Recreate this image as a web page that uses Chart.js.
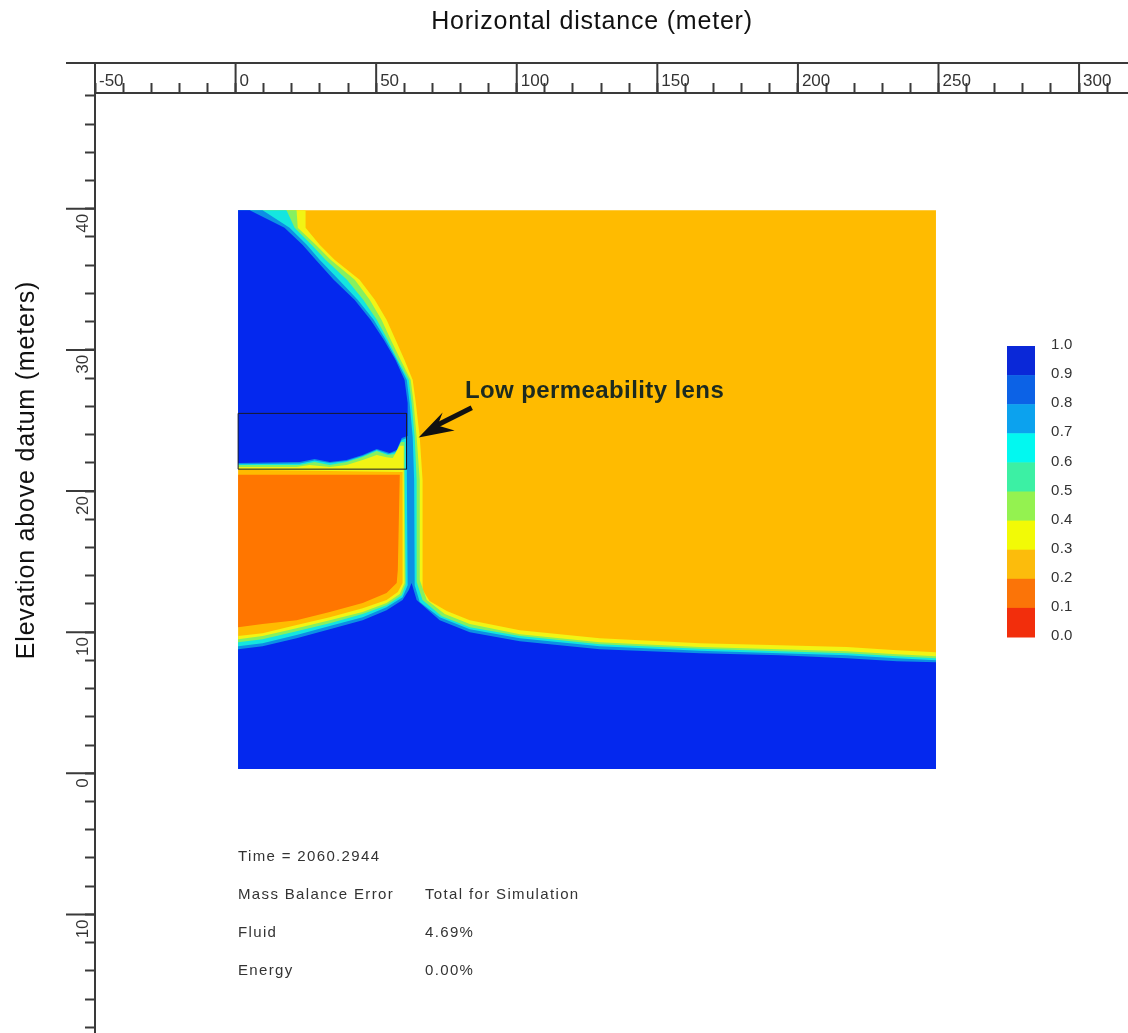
<!DOCTYPE html>
<html lang="en">

<head>
    <meta charset="UTF-8">
    <title>Saturation contours</title>
    <script src="https://cdn.jsdelivr.net/npm/chart.js"></script>
    <style>
        body {
            margin: 0;
            background-color: #fff;
        }

        canvas {
            display: block;
            filter: blur(0.5px);
        }
    </style>
</head>

<body>
    <canvas id="chart" width="1128" height="1033"></canvas>

    <script>
        // axis labels
        const xTickValues = [-50, 0, 50, 100, 150, 200, 250, 300];
        const xTickLabels = ["-50", "0", "50", "100", "150", "200", "250", "300"];
        const yTickValues = [40, 30, 20, 10, 0, -10];
        const yTickLabels = ["40", "30", "20", "10", "0", "10"];

        // legend
        const legendLabels = ["1.0", "0.9", "0.8", "0.7", "0.6", "0.5", "0.4", "0.3", "0.2", "0.1", "0.0"];
        const legendColors = ["#0a28d8", "#0c62e6", "#0ca2ee", "#02f8f0", "#3cf0a4", "#94f250", "#f2fa06", "#fcbc0c", "#fb7408", "#f22e0c"];

        // contour outlines, as [horizontal distance, elevation]
        const domainOutline = [[0.9, 39.9], [249.1, 39.9], [249.1, 0.3], [0.9, 0.3]];
        const orangeOutline = [[0.9, 21.15], [58.4, 21.15], [57.7, 14.4], [57.3, 13.48], [53.7, 12.77], [45.2, 12.06], [33.5, 11.42], [21.7, 10.85], [9.6, 10.57], [0.9, 10.35]];
        const yellowOutline = [[0.9, 39.9], [24.9, 39.9], [24.9, 38.65], [29.9, 37.45], [35.2, 36.38], [44.1, 34.96], [49.5, 33.55], [53.7, 32.13], [56.9, 30.71], [60.1, 29.29], [63.0, 27.87], [64.1, 26.24], [65.5, 23.83], [66.5, 20.78], [66.5, 13.0], [69.0, 12.2], [75.1, 11.5], [83.3, 10.85], [101.1, 10.14], [129.5, 9.57], [165.1, 9.22], [193.6, 9.08], [217.4, 8.94], [235.2, 8.72], [249.1, 8.58], [249.1, 0.3], [0.9, 0.3], [0.9, 9.72], [9.6, 9.93], [21.7, 10.5], [33.5, 11.06], [45.2, 11.7], [53.7, 12.27], [57.7, 12.84], [59.4, 13.48], [59.4, 21.35], [0.9, 21.5]];
        const greenOutline = [[0.9, 39.9], [21.7, 39.9], [22.1, 38.65], [28.5, 37.45], [33.8, 36.38], [42.4, 34.96], [47.7, 33.55], [51.9, 32.13], [55.2, 30.71], [58.7, 29.29], [62.3, 27.87], [63.3, 26.24], [64.4, 23.83], [65.5, 20.78], [65.5, 13.7], [68.0, 12.27], [74.4, 11.28], [83.3, 10.57], [101.1, 9.86], [129.5, 9.29], [165.1, 8.94], [193.6, 8.79], [217.4, 8.65], [235.2, 8.44], [249.1, 8.3], [249.1, 0.3], [0.9, 0.3], [0.9, 9.5], [9.6, 9.72], [21.7, 10.28], [33.5, 10.85], [45.2, 11.42], [53.7, 12.06], [58.4, 12.7], [60.1, 13.48], [59.8, 21.5], [59.8, 23.2], [58.4, 23.2], [55.9, 22.34], [53.7, 22.4], [50.2, 22.55], [45.2, 22.2], [39.5, 21.84], [33.5, 21.7], [26.3, 21.84], [21.7, 21.7], [0.9, 21.7]];
        const cyanOutline = [[0.9, 39.9], [18.1, 39.9], [21.0, 38.65], [27.0, 37.45], [32.0, 36.38], [39.6, 34.96], [45.4, 33.55], [50.2, 32.13], [54.1, 30.71], [57.7, 29.29], [61.6, 27.87], [62.6, 26.24], [63.7, 23.83], [64.4, 20.78], [64.4, 13.55], [66.5, 12.27], [73.3, 11.13], [83.3, 10.35], [101.1, 9.72], [129.5, 9.15], [165.1, 8.83], [193.6, 8.65], [217.4, 8.51], [235.2, 8.3], [249.1, 8.16], [249.1, 0.3], [0.9, 0.3], [0.9, 9.29], [9.6, 9.5], [21.7, 10.07], [33.5, 10.64], [45.2, 11.28], [53.7, 11.91], [59.1, 12.62], [60.5, 13.4], [60.1, 21.5], [60.1, 23.47], [58.7, 23.47], [56.6, 22.62], [54.1, 22.55], [50.2, 22.84], [45.2, 22.41], [39.5, 22.06], [33.5, 21.84], [28.1, 22.06], [22.8, 21.84], [0.9, 21.84]];
        const azureOutline = [[0.9, 39.9], [9.6, 39.9], [19.2, 38.65], [25.3, 37.45], [29.9, 36.38], [36.7, 34.96], [43.4, 33.55], [49.1, 32.13], [53.4, 30.71], [57.3, 29.29], [60.9, 27.87], [61.9, 26.24], [63.0, 23.83], [63.5, 20.78], [63.7, 13.33], [65.5, 12.13], [72.6, 11.06], [83.3, 10.21], [101.1, 9.57], [129.5, 9.0], [165.1, 8.69], [193.6, 8.51], [217.4, 8.37], [235.2, 8.16], [249.1, 8.01], [249.1, 0.3], [0.9, 0.3], [0.9, 9.0], [9.6, 9.22], [21.7, 9.79], [33.5, 10.43], [45.2, 11.06], [53.7, 11.77], [59.4, 12.48], [61.2, 13.33], [60.9, 21.5], [60.9, 23.76], [59.1, 23.62], [56.9, 22.77], [54.4, 22.62], [50.2, 22.91], [45.2, 22.48], [39.5, 22.13], [33.5, 21.99], [28.1, 22.16], [22.8, 21.95], [0.9, 21.9]];
        const blueMound = [[0.9, 39.9], [5.0, 39.9], [17.4, 38.65], [23.8, 37.45], [28.5, 36.38], [34.9, 34.96], [42.3, 33.55], [48.0, 32.13], [52.7, 30.71], [56.9, 29.29], [60.1, 27.87], [61.2, 26.24], [61.2, 23.9], [59.1, 23.76], [57.3, 22.91], [54.8, 22.7], [50.2, 22.98], [45.2, 22.55], [39.5, 22.2], [33.5, 22.06], [28.1, 22.27], [22.8, 22.06], [0.9, 21.99]];
        const blueTable = [[62.6, 13.48], [64.4, 12.27], [72.6, 10.85], [83.3, 10.0], [101.1, 9.36], [129.5, 8.79], [165.1, 8.51], [193.6, 8.37], [217.4, 8.16], [235.2, 7.94], [249.1, 7.87], [249.1, 0.3], [0.9, 0.3], [0.9, 8.79], [9.6, 9.0], [21.7, 9.57], [33.5, 10.21], [45.2, 10.85], [53.7, 11.56], [59.4, 12.27], [61.6, 12.98]];

        // low permeability lens box and the arrow pointing at it
        const lensOutline = [[0.9, 25.5], [60.8, 25.5], [60.8, 21.55], [0.9, 21.55], [0.9, 25.5]];
        const arrowLine = [[84, 25.9], [70, 24.5]];
        const arrowTip = [65.1, 23.8];

        const noteLines = [
            ["Time = 2060.2944", "", 857],
            ["Mass Balance Error", "Total for Simulation", 895],
            ["Fluid", "4.69%", 933],
            ["Energy", "0.00%", 971],
        ];

        const lineColor = "#3a3a3a";
        const fontName = "'Liberation Sans', Arial, sans-serif";

        function toPoints(list) {
            return list.map(p => ({ x: p[0], y: p[1] }));
        }

        function band(list, color) {
            return {
                data: toPoints(list),
                showLine: true,
                fill: "shape",
                backgroundColor: color,
                borderWidth: 0,
                pointRadius: 0,
            };
        }

        function drawText(ctx, text, x, y, font, color, spacing) {
            ctx.font = font;
            ctx.fillStyle = color;
            ctx.letterSpacing = spacing || "0px";
            ctx.fillText(text, x, y);
        }

        const extras = {
            id: "extras",
            afterDraw(chart) {
                const ctx = chart.ctx;
                const xs = chart.scales.x;
                const ys = chart.scales.y;
                ctx.save();

                // long ruler ticks and outer ruler line
                ctx.strokeStyle = lineColor;
                ctx.lineWidth = 2;
                ctx.beginPath();
                ctx.moveTo(66, 63);
                ctx.lineTo(1128, 63);
                for (const v of xTickValues) {
                    const px = xs.getPixelForValue(v);
                    ctx.moveTo(px, 63);
                    ctx.lineTo(px, chart.chartArea.top);
                }
                for (const v of yTickValues) {
                    const py = ys.getPixelForValue(v);
                    ctx.moveTo(66, py);
                    ctx.lineTo(chart.chartArea.left, py);
                }
                ctx.stroke();

                // arrow head
                const tipX = xs.getPixelForValue(arrowTip[0]);
                const tipY = ys.getPixelForValue(arrowTip[1]);
                ctx.fillStyle = "#111";
                ctx.beginPath();
                ctx.moveTo(tipX, tipY);
                ctx.lineTo(tipX + 24, tipY - 25);
                ctx.lineTo(tipX + 19, tipY - 12);
                ctx.lineTo(tipX + 36, tipY - 7);
                ctx.closePath();
                ctx.fill();

                ctx.textBaseline = "middle";
                ctx.textAlign = "left";
                drawText(ctx, "Low permeability lens", 465, 391, "bold 24px " + fontName, "#1c2a20", "0.4px");

                // colour legend
                const legendTop = 346, rowHeight = 29.1;
                legendColors.forEach((color, i) => {
                    ctx.fillStyle = color;
                    ctx.fillRect(1007, legendTop + i * rowHeight, 28, rowHeight + 0.5);
                });
                legendLabels.forEach((label, i) => {
                    drawText(ctx, label, 1051, 345 + i * rowHeight, "15px " + fontName, "#333", "0.3px");
                });

                // simulation notes
                for (const [left, right, y] of noteLines) {
                    drawText(ctx, left, 238, y, "15px " + fontName, "#333", "1.35px");
                    drawText(ctx, right, 425, y, "15px " + fontName, "#333", "1.35px");
                }

                // axis titles
                ctx.textAlign = "center";
                drawText(ctx, "Horizontal distance (meter)", 592, 22, "25px " + fontName, "#111", "0.8px");
                ctx.translate(27, 470);
                ctx.rotate(-Math.PI / 2);
                drawText(ctx, "Elevation above datum (meters)", 0, 0, "25px " + fontName, "#111", "0.8px");
                ctx.restore();
            },
        };

        new Chart(document.getElementById("chart").getContext("2d"), {
            type: "scatter",
            data: {
                datasets: [
                    { data: toPoints(arrowLine), showLine: true, borderColor: "#111", borderWidth: 5, pointRadius: 0 },
                    { data: toPoints(lensOutline), showLine: true, borderColor: "#1a1a2a", borderWidth: 1, pointRadius: 0 },
                    band(blueMound, "#0428ee"),
                    band(blueTable, "#0428ee"),
                    band(azureOutline, "#0c90e4"),
                    band(cyanOutline, "#14e6e0"),
                    band(greenOutline, "#86f060"),
                    band(yellowOutline, "#f2f414"),
                    band(orangeOutline, "#ff7600"),
                    band(domainOutline, "#ffbb00"),
                ],
            },
            options: {
                responsive: false,
                animation: false,
                layout: { padding: 0 },
                plugins: { legend: { display: false }, tooltip: { enabled: false } },
                scales: {
                    x: {
                        type: "linear",
                        position: "top",
                        min: -50,
                        max: 317.4,
                        afterFit(scale) {
                            scale.height = 93;
                            scale.paddingLeft = 0;
                            scale.paddingRight = 0;
                        },
                        border: { color: lineColor, width: 2 },
                        grid: { drawOnChartArea: false, tickLength: 10, tickColor: lineColor, tickWidth: 2 },
                        ticks: {
                            stepSize: 10,
                            includeBounds: false,
                            autoSkip: false,
                            minRotation: 0,
                            maxRotation: 0,
                            align: "start",
                            labelOffset: 4,
                            padding: -9,
                            color: "#333",
                            font: { family: "Liberation Sans", size: 17 },
                            callback(value) {
                                const i = xTickValues.indexOf(value);
                                return i < 0 ? "" : xTickLabels[i];
                            },
                        },
                    },
                    y: {
                        type: "linear",
                        min: -18.4,
                        max: 48.2,
                        afterFit(scale) {
                            scale.width = 95;
                            scale.paddingTop = 0;
                            scale.paddingBottom = 0;
                        },
                        border: { color: lineColor, width: 2 },
                        grid: { drawOnChartArea: false, tickLength: 10, tickColor: lineColor, tickWidth: 2 },
                        ticks: {
                            stepSize: 2,
                            includeBounds: false,
                            autoSkip: false,
                            minRotation: 90,
                            maxRotation: 90,
                            labelOffset: 5,
                            padding: 2,
                            color: "#333",
                            font: { family: "Liberation Sans", size: 17 },
                            callback(value) {
                                const i = yTickValues.indexOf(value);
                                return i < 0 ? "" : yTickLabels[i];
                            },
                        },
                    },
                },
            },
            plugins: [extras],
        });
    </script>
</body>

</html>
